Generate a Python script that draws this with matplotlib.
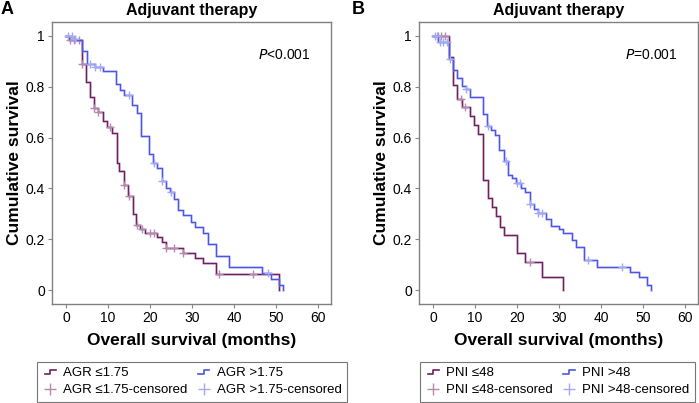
import matplotlib
matplotlib.use('Agg')
import matplotlib.pyplot as plt
import numpy as np
from matplotlib.lines import Line2D
from matplotlib.legend_handler import HandlerBase

plt.rcParams['font.family'] = ['Liberation Sans', 'DejaVu Sans']

# Panel A: AGR groups
times_a1 = [0, 0.7, 3.7, 4.8, 5.7, 6.7, 7.7, 8.7, 9.7, 10.9, 12.1, 12.7, 13.7, 14.8,
            15.9, 16.6, 17.6, 18.8, 21.7, 22.8, 23.7, 27.8, 30.7, 32.7, 35.7, 50.7]
surv_a1 = [1, 0.985, 0.89, 0.82, 0.76, 0.715, 0.70, 0.665, 0.64, 0.62, 0.50, 0.47, 0.415,
           0.37, 0.30, 0.256, 0.239, 0.225, 0.21, 0.19, 0.165, 0.145, 0.125, 0.105, 0.062, 0.0]
cens_a1 = [1.0, 2.0, 3.0, 3.7, 6.7, 7.7, 10.5, 13.8, 15.0, 16.8, 18.0, 20.0, 21.0,
           23.8, 25.6, 27.8, 36.5, 44.6]

times_a2 = [0, 1.5, 2.7, 3.8, 4.9, 6.9, 8.9, 11.9, 12.9, 13.8, 15.8, 16.8, 17.8, 19.8,
            20.8, 21.7, 22.8, 23.7, 24.8, 25.7, 26.7, 27.8, 29.7, 30.7, 32.7, 33.7, 35.7,
            38.7, 46.6, 48.7, 50.7, 51.7]
surv_a2 = [1, 0.99, 0.985, 0.94, 0.89, 0.878, 0.862, 0.812, 0.787, 0.767, 0.728, 0.695,
           0.608, 0.536, 0.50, 0.482, 0.43, 0.40, 0.384, 0.358, 0.315, 0.295, 0.269, 0.249,
           0.226, 0.18, 0.134, 0.089, 0.066, 0.043, 0.02, 0.0]
cens_a2 = [0.5, 1.3, 2.2, 5.8, 7.0, 8.0, 14.9, 20.9, 22.9, 24.9, 48.0]

# Panel B: PNI groups
times_b1 = [0, 3.8, 4.8, 5.8, 6.8, 8.8, 9.8, 10.8, 11.8, 13.0, 14.0, 15.0, 16.0, 17.0,
            20.0, 22.0, 26.0, 31.0]
surv_b1 = [1, 0.918, 0.806, 0.75, 0.72, 0.685, 0.65, 0.613, 0.434, 0.362, 0.325, 0.29,
           0.25, 0.215, 0.144, 0.11, 0.052, 0.0]
cens_b1 = [1.2, 2.0, 2.8, 6.6, 7.6, 23.0]

times_b2 = [0, 1.2, 3.8, 4.8, 5.8, 6.8, 7.8, 8.8, 11.8, 12.8, 13.8, 14.8, 15.8, 16.8,
            17.8, 18.8, 19.8, 21.0, 22.0, 23.0, 24.0, 25.0, 27.0, 28.0, 30.0, 31.0, 33.0,
            34.0, 36.0, 39.0, 47.0, 49.0, 51.0, 52.0]
surv_b2 = [1, 0.976, 0.908, 0.865, 0.833, 0.803, 0.793, 0.758, 0.693, 0.646, 0.63, 0.61,
           0.552, 0.506, 0.454, 0.44, 0.42, 0.40, 0.387, 0.339, 0.32, 0.305, 0.278, 0.252,
           0.239, 0.226, 0.197, 0.17, 0.118, 0.089, 0.072, 0.052, 0.02, 0.0]
cens_b2 = [0.4, 1.0, 1.6, 2.4, 3.2, 4.0, 7.8, 13.2, 17.4, 19.9, 20.6, 23.2, 25.0, 26.0,
           37.0, 45.0]

PURPLE = '#6e1f63'
PURPLE_LT = '#b58ab0'
BLUE = '#4b55e6'
BLUE_LT = '#a4aaf2'


class StepHandler(HandlerBase):
    def create_artists(self, legend, orig_handle, xdescent, ydescent,
                       width, height, fontsize, trans):
        x0, x1 = -xdescent + width * 0.15, -xdescent + width * 0.85
        ylo, yhi = -ydescent + height * 0.3, -ydescent + height * 0.7
        xm = (x0 + x1) / 2
        ln = Line2D([x0, xm, xm, x1], [ylo, ylo, yhi, yhi],
                    color=orig_handle.get_color(), lw=1.2, transform=trans)
        return [ln]


def surv_at(times, surv, t):
    idx = np.searchsorted(times, t, side='right') - 1
    return np.array(surv)[idx]


def km_panel(ax, t1, s1, c1, t2, s2, c2, ptext):
    for t, s, c, col, lt in [(t1, s1, c1, PURPLE, PURPLE_LT), (t2, s2, c2, BLUE, BLUE_LT)]:
        ax.step(t, s, where='post', color=lt, lw=2.2, alpha=0.35)
        ax.step(t, s, where='post', color=col, lw=1.0)
        ax.plot(c, surv_at(t, s, c), ls='none', marker='+', ms=6, mew=1.0, color=lt)
    ax.set_xlim(-3.35, 63.1)
    ax.set_ylim(-0.055, 1.055)
    ax.set_xticks([0, 10, 20, 30, 40, 50, 60])
    ax.set_yticks([0, 0.2, 0.4, 0.6, 0.8, 1])
    ax.set_yticklabels(['0', '0.2', '0.4', '0.6', '0.8', '1'])
    ax.tick_params(labelsize=10, length=3, color='#888888', pad=2)
    for sp in ax.spines.values():
        sp.set_color('#808080')
        sp.set_linewidth(1.0)
    ax.set_title('Adjuvant therapy', fontsize=11.5, fontweight='bold', pad=5)
    ax.set_xlabel('Overall survival (months)', fontsize=12.5, fontweight='bold', labelpad=6)
    ax.set_ylabel('Cumulative survival', fontsize=12.5, fontweight='bold', labelpad=3)
    ax.text(0.74, 0.87, ptext, transform=ax.transAxes, fontsize=10)


fig = plt.figure(figsize=(6.99, 4.03), dpi=100)
W, H = 699, 403
axA = fig.add_axes([52 / W, 1 - 304 / H, 279 / W, 282 / H])
axB = fig.add_axes([419 / W, 1 - 304 / H, 279 / W, 282 / H])

km_panel(axA, times_a1, surv_a1, cens_a1, times_a2, surv_a2, cens_a2, '$\\it{P}$<0.001')
km_panel(axB, times_b1, surv_b1, cens_b1, times_b2, surv_b2, cens_b2, '$\\it{P}$=0.001')

fig.text(1 / W, 1 - 9 / H, 'A', fontsize=13, fontweight='bold', va='center')
fig.text(352 / W, 1 - 9 / H, 'B', fontsize=13, fontweight='bold', va='center')

for ax, labels, left in [(axA, ['AGR \u22641.75', 'AGR \u22641.75-censored',
                                'AGR >1.75', 'AGR >1.75-censored'], 37),
                         (axB, ['PNI \u226448', 'PNI \u226448-censored',
                                'PNI >48', 'PNI >48-censored'], 420)]:
    h1 = Line2D([], [], color=PURPLE)
    h1c = Line2D([], [], ls='none', marker='+', ms=8, color=PURPLE_LT)
    h2 = Line2D([], [], color=BLUE)
    h2c = Line2D([], [], ls='none', marker='+', ms=8, color=BLUE_LT)
    leg = fig.legend([h1, h1c, h2, h2c], labels, ncol=2, loc='lower left',
                     bbox_to_anchor=(left / W, 1.5 / H), fontsize=9.5,
                     handler_map={h1: StepHandler(), h2: StepHandler()},
                     frameon=True, fancybox=False, edgecolor='#555555',
                     handlelength=1.2, handletextpad=0.4, columnspacing=0.6,
                     labelspacing=0.35, borderpad=0.4, borderaxespad=0)
    leg.get_frame().set_linewidth(0.8)

fig.savefig('out.png', dpi=100)
